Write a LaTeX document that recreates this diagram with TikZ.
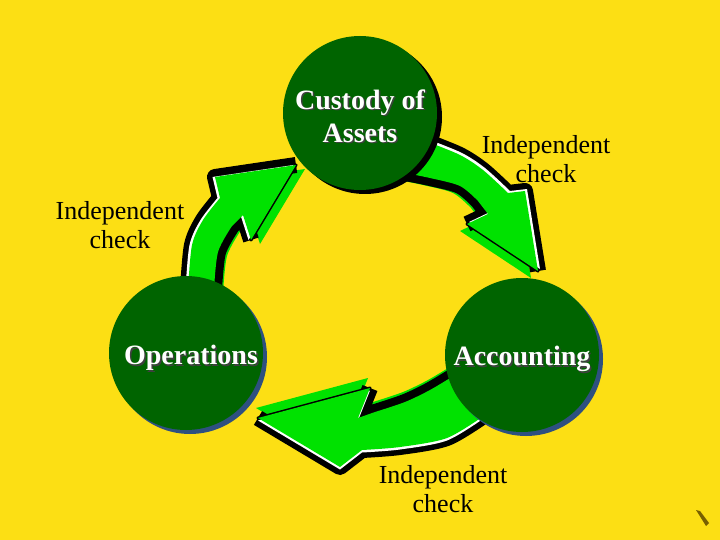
\documentclass[tikz,border=0pt]{standalone}
\usepackage{fontspec}
\setmainfont{Liberation Serif}
\usetikzlibrary{shadows}
\definecolor{slideyellow}{RGB}{252,223,20}
\definecolor{leafgreen}{RGB}{0,100,0}
\definecolor{brightgreen}{RGB}{0,226,0}
\definecolor{shadeblue}{RGB}{46,80,128}
\definecolor{pencilbrown}{RGB}{120,96,0}
% one curved block arrow: #1 glow shift, #2 highlight shift, #3 tip, #4 rest of outline
\newcommand{\cyclearrow}[4]{%
  \fill[arrowglow, shift={#1}] #3 -- #4 -- cycle;
  \filldraw[arrowedge] #3 -- #4 -- cycle;
  \draw[arrowrim] #4 -- #3;
  \fill[white, shift={#2}] #3 -- #4 -- cycle;
  \fill[arrowbody] #3 -- #4 -- cycle;
}
\begin{document}
\begin{tikzpicture}[x=1pt, y=-1pt,
    arrowglow/.style={fill=brightgreen},
    arrowedge/.style={fill=black, draw=black, line width=3pt, line join=round},
    arrowrim/.style={draw=black, line width=16pt, line join=round},
    arrowbody/.style={fill=brightgreen},
    bubble/.style={circle, fill=leafgreen, minimum size=154pt, inner sep=0pt},
    bubbletext/.style={text=white, align=center, font=\fontsize{28}{33}\selectfont\bfseries},
    checklabel/.style={align=center, inner sep=0pt, font=\fontsize{26}{29}\selectfont}]
  \fill[slideyellow] (0,0) rectangle (720,540);
  \useasboundingbox (0,0) rectangle (720,540);

  % arrows of the cycle
  \cyclearrow{(-7,7)}{(2,-2)}{(538,271)}{(467,224) -- (488,214)
    -- plot[smooth] coordinates {(478,201) (460,186) (430,178) (400,172)}
    -- plot[smooth] coordinates {(428,142) (460,155) (483,170) (508,193)}
    -- (525,191)}
  \cyclearrow{(-2,-10)}{(0,2.5)}{(258,418)}{(370,388) -- (358,418)
    -- plot[smooth] coordinates {(375,412) (405,402) (430,390) (455,375)}
    -- plot[smooth] coordinates {(485,415) (447,438) (400,447) (362,450)}
    -- (340,467)}
  \cyclearrow{(9,4)}{(-2.5,0)}{(296,165)}{(251,240) -- (243,215)
    -- plot[smooth] coordinates {(232,226) (218,252) (214,290)}
    -- plot[smooth] coordinates {(188,290) (192,245) (203,220) (220,198)}
    -- (215,177)}

  % the three duties
  \node[bubble, drop shadow={shadow xshift=5pt, shadow yshift=-4pt, fill=black, opacity=1}] (cust) at (360,113) {};
  \node[bubble, drop shadow={shadow xshift=4pt, shadow yshift=-4pt, fill=shadeblue, opacity=1}] (oper) at (186,353) {};
  \node[bubble, drop shadow={shadow xshift=4pt, shadow yshift=-4pt, fill=shadeblue, opacity=1}] (acct) at (522,355) {};

  \node[bubbletext, text=black!75] (custS) at ([shift={(1.5pt,-4.5pt)}]cust.center) {Custody of\\Assets};
  \node[bubbletext] (custT) at ([shift={(0pt,-3pt)}]cust.center) {Custody of\\Assets};
  \node[bubbletext, text=black!75] (operS) at ([shift={(6.5pt,-6.5pt)}]oper.center) {Operations};
  \node[bubbletext] (operT) at ([shift={(5pt,-5pt)}]oper.center) {Operations};
  \node[bubbletext, text=black!75] (acctS) at ([shift={(1.5pt,-5.5pt)}]acct.center) {Accounting};
  \node[bubbletext] (acctT) at ([shift={(0pt,-4pt)}]acct.center) {Accounting};

  % checks between them
  \node[checklabel] (chkA) at (546,159) {Independent\\check};
  \node[checklabel] (chkB) at (120,225) {Independent\\check};
  \node[checklabel] (chkC) at (443,489) {Independent\\check};

  \fill[pencilbrown] (696,510) -- (700,511) -- (709,523) -- (706,526) -- cycle;
\end{tikzpicture}
\end{document}
